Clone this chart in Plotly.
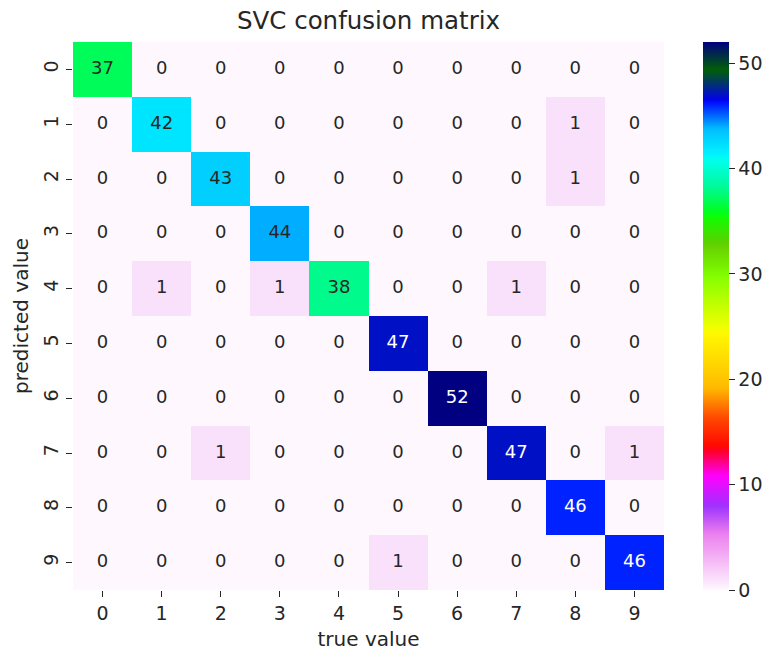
import numpy as np
import plotly.graph_objects as go

labels = [str(i) for i in range(10)]
matrix = [
    [37, 0, 0, 0, 0, 0, 0, 0, 0, 0],
    [0, 42, 0, 0, 0, 0, 0, 0, 1, 0],
    [0, 0, 43, 0, 0, 0, 0, 0, 1, 0],
    [0, 0, 0, 44, 0, 0, 0, 0, 0, 0],
    [0, 1, 0, 1, 38, 0, 0, 1, 0, 0],
    [0, 0, 0, 0, 0, 47, 0, 0, 0, 0],
    [0, 0, 0, 0, 0, 0, 52, 0, 0, 0],
    [0, 0, 1, 0, 0, 0, 0, 47, 0, 1],
    [0, 0, 0, 0, 0, 0, 0, 0, 46, 0],
    [0, 0, 0, 0, 0, 1, 0, 0, 0, 46],
]

# matplotlib gist_ncar segment data
R = [(0.0, 0.0), (0.3098, 0.0), (0.3725, 0.3993), (0.4235, 0.5003), (0.5333, 1.0),
     (0.7922, 1.0), (0.8471, 0.6218), (0.8980, 0.9235), (1.0, 0.9961)]
G = [(0.0, 0.0), (0.0510, 0.3722), (0.1059, 0.0), (0.1569, 0.7202), (0.1608, 0.7537),
     (0.1647, 0.7752), (0.2157, 1.0), (0.2588, 0.9804), (0.2706, 0.9804), (0.3176, 1.0),
     (0.3686, 0.8081), (0.4275, 1.0), (0.5216, 1.0), (0.6314, 0.7292), (0.6863, 0.2796),
     (0.7451, 0.0), (0.7922, 0.0), (0.8431, 0.1753), (0.8980, 0.5), (1.0, 0.9725)]
B = [(0.0, 0.5020), (0.0510, 0.0222), (0.1098, 1.0), (0.2039, 1.0), (0.2627, 0.6145),
     (0.3216, 0.0), (0.4157, 0.0), (0.4745, 0.0), (0.5333, 0.0), (0.5804, 0.0),
     (0.6314, 0.0), (0.6902, 0.0), (0.7373, 0.0), (0.7922, 1.0), (0.8431, 1.0),
     (0.8980, 0.9341), (1.0, 0.9961)]


def seg(data, t):
    xs = [d[0] for d in data]
    ys = [d[1] for d in data]
    return float(np.interp(t, xs, ys))


def cmap_r(t):
    u = 1.0 - t
    return seg(R, u), seg(G, u), seg(B, u)


def rgbstr(c):
    return "rgb(%d,%d,%d)" % tuple(int(round(v * 255)) for v in c)


n = 200
colorscale = [[i / n, rgbstr(cmap_r(i / n))] for i in range(n + 1)]

zmax = 52


def lum(c):
    def f(v):
        return v / 12.92 if v <= 0.03928 else ((v + 0.055) / 1.055) ** 2.4
    r, g, b = (f(v) for v in c)
    return 0.2126 * r + 0.7152 * g + 0.0722 * b


tx, ty, tt, tc = [], [], [], []
for i, row in enumerate(matrix):
    for j, v in enumerate(row):
        tx.append(j)
        ty.append(i)
        tt.append(str(v))
        c = cmap_r(v / zmax)
        tc.append("#262626" if lum(c) > 0.3 else "white")

FONT = "DejaVu Sans"
TXT = "#262626"

fig = go.Figure()
fig.add_trace(go.Heatmap(
    z=matrix, x=list(range(10)), y=list(range(10)),
    colorscale=colorscale, zmin=0, zmax=zmax,
    xgap=0, ygap=0, hoverinfo="skip",
    colorbar=dict(
        x=1.066, xanchor="left", xref="paper",
        y=0.5, yanchor="middle", len=1, lenmode="fraction",
        thickness=26, outlinewidth=0, xpad=0, ypad=0,
        tickmode="array", tickvals=[0, 10, 20, 30, 40, 50],
        ticks="outside", ticklen=6, tickwidth=1.3, tickcolor=TXT,
        tickfont=dict(family=FONT, size=19, color=TXT),
    ),
))
fig.add_trace(go.Scatter(
    x=tx, y=ty, text=tt, mode="text",
    textfont=dict(family=FONT, size=18, color=tc),
    hoverinfo="skip", showlegend=False,
))

fig.update_layout(
    width=770, height=656,
    margin=dict(l=73, r=106, t=42, b=66, autoexpand=False),
    paper_bgcolor="white", plot_bgcolor="white",
    title=dict(text="SVC confusion matrix", x=0.5, xref="paper", xanchor="center",
               y=0.969, yanchor="middle", yref="container",
               font=dict(family=FONT, size=24.5, color=TXT)),
    xaxis=dict(
        tickmode="array", tickvals=list(range(10)), ticktext=labels,
        range=[-0.5, 9.5], showgrid=False, zeroline=False, showline=False,
        ticks="outside", ticklen=6, tickwidth=1.3, tickcolor=TXT,
        tickfont=dict(family=FONT, size=19, color=TXT),
        title=dict(text="true value", standoff=9,
                   font=dict(family=FONT, size=20, color=TXT)),
    ),
    yaxis=dict(
        tickmode="array", tickvals=list(range(10)), ticktext=labels,
        range=[9.5, -0.5], showgrid=False, zeroline=False, showline=False,
        ticks="outside", ticklen=6, tickwidth=1.3, tickcolor=TXT,
        tickangle=-90,
        tickfont=dict(family=FONT, size=19, color=TXT),
        title=dict(text="predicted value", standoff=6,
                   font=dict(family=FONT, size=20, color=TXT)),
    ),
)

fig.write_html(
    "out.html",
    config={"displayModeBar": False},
    post_script="document.body.style.margin='0';document.body.style.padding='0';",
)
